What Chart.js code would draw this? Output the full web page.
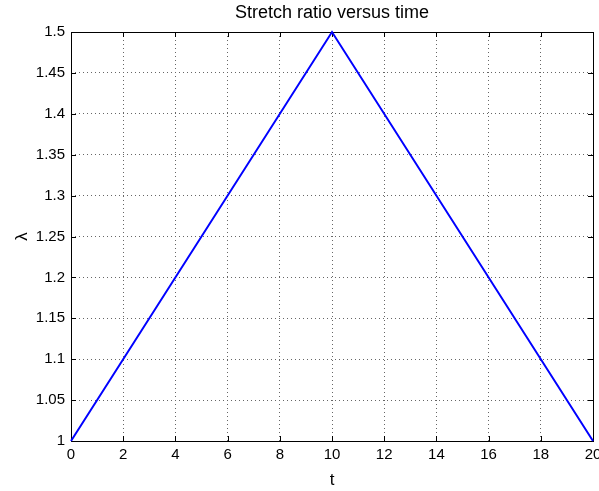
<!DOCTYPE html>
<html lang="en">
<head>
    <meta charset="UTF-8">
    <title>Stretch ratio versus time</title>
    <script src="https://cdn.jsdelivr.net/npm/chart.js"></script>
    <style>
        body {
            margin: 0;
            background-color: #ffffff;
        }
        #wrap {
            width: 599px;
            height: 491px;
        }
    </style>
</head>
<body>
    <div id="wrap"><canvas id="stretchChart"></canvas></div>

    <script>
        // Triangular loading: stretch up to 1.5 at t = 10, back to 1 at t = 20
        const timeVals = [0, 10, 20];
        const stretchVals = [1, 1.5, 1];
        const xTicks = [0, 2, 4, 6, 8, 10, 12, 14, 16, 18, 20];
        const yTicks = [1, 1.05, 1.1, 1.15, 1.2, 1.25, 1.3, 1.35, 1.4, 1.45, 1.5];

        const FONT = "'Liberation Sans', Arial, sans-serif";

        // Box around the axes plus inward tick marks on all four sides
        const boxAndTicks = {
            id: 'boxAndTicks',
            beforeDatasetsDraw(chart) {
                const { ctx, chartArea: a, scales } = chart;
                const len = 5;
                ctx.save();
                ctx.strokeStyle = '#000';
                ctx.lineWidth = 1;
                ctx.beginPath();
                xTicks.forEach(v => {
                    const x = Math.round(scales.x.getPixelForValue(v)) + 0.5;
                    ctx.moveTo(x, a.bottom); ctx.lineTo(x, a.bottom - len);
                    ctx.moveTo(x, a.top); ctx.lineTo(x, a.top + len);
                });
                yTicks.forEach(v => {
                    const y = Math.round(scales.y.getPixelForValue(v)) + 0.5;
                    ctx.moveTo(a.left, y); ctx.lineTo(a.left + len, y);
                    ctx.moveTo(a.right, y); ctx.lineTo(a.right - len, y);
                });
                ctx.stroke();
                ctx.strokeRect(Math.round(a.left) + 0.5, Math.round(a.top) + 0.5,
                    Math.round(a.right - a.left), Math.round(a.bottom - a.top));
                ctx.restore();
            }
        };

        const plotTitle = {
            id: 'plotTitle',
            afterDraw(chart) {
                const { ctx, chartArea: a } = chart;
                ctx.save();
                ctx.fillStyle = '#000';
                ctx.font = '18px ' + FONT;
                ctx.textAlign = 'center';
                ctx.textBaseline = 'middle';
                ctx.fillText('Stretch ratio versus time', (a.left + a.right) / 2, 13);
                ctx.restore();
            }
        };

        const ctx = document.getElementById('stretchChart').getContext('2d');
        new Chart(ctx, {
            type: 'line',
            data: {
                datasets: [{
                    data: timeVals.map((t, i) => ({ x: t, y: stretchVals[i] })),
                    borderColor: '#0000ff',
                    borderWidth: 2,
                    pointRadius: 0,
                    tension: 0,
                    clip: false
                }]
            },
            options: {
                responsive: true,
                maintainAspectRatio: false,
                animation: false,
                layout: { padding: { top: 32, right: 6, left: 0, bottom: 0 } },
                plugins: {
                    legend: { display: false },
                    tooltip: { enabled: false },
                    title: { display: false }
                },
                scales: {
                    x: {
                        type: 'linear',
                        min: 0,
                        max: 20,
                        afterBuildTicks: s => { s.ticks = xTicks.map(v => ({ value: v })); },
                        afterFit: s => { s.height = 50; s.paddingLeft = 0; s.paddingRight = 0; },
                        grid: { color: '#666', drawTicks: false, lineWidth: 1 },
                        border: { display: false, dash: [1, 3] },
                        ticks: {
                            padding: 5,
                            color: '#000',
                            maxRotation: 0,
                            font: { family: FONT, size: 15 }
                        },
                        title: {
                            display: true,
                            text: 't',
                            color: '#000',
                            padding: { top: 2, bottom: 0 },
                            font: { family: FONT, size: 17 }
                        }
                    },
                    y: {
                        type: 'linear',
                        min: 1,
                        max: 1.5,
                        afterBuildTicks: s => { s.ticks = yTicks.map(v => ({ value: v })); },
                        afterFit: s => { s.width = 71; s.paddingTop = 0; s.paddingBottom = 0; },
                        grid: { color: '#666', drawTicks: false, lineWidth: 1 },
                        border: { display: false, dash: [1, 3] },
                        ticks: {
                            padding: 6,
                            color: '#000',
                            font: { family: FONT, size: 15 },
                            callback: v => String(Number(v.toFixed(2)))
                        },
                        title: {
                            display: true,
                            text: 'λ',
                            color: '#000',
                            padding: { top: 12, bottom: 0 },
                            font: { family: FONT, size: 17 }
                        }
                    }
                }
            },
            plugins: [boxAndTicks, plotTitle]
        });
    </script>
</body>
</html>
